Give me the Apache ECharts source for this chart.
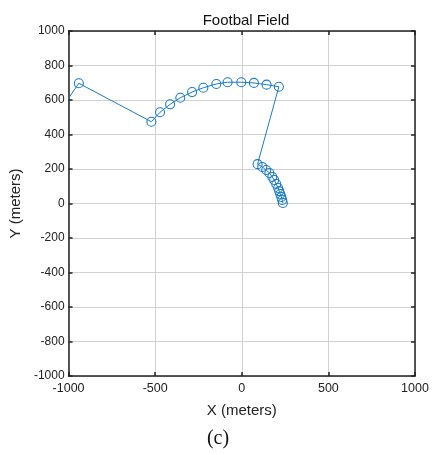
<!DOCTYPE html>
<html>
<head>
<meta charset="utf-8">
<script src="https://cdn.jsdelivr.net/npm/echarts@6/dist/echarts.min.js"></script>
<style>
	html, body { margin: 0; padding: 0; background: #fff; }
	#chart { width: 436px; height: 455px; }
</style>
</head>
<body>
<div id="chart"></div>
<script>
// path points (first one sits just outside the left edge)
const xs = [-1030, -941, -522, -472, -414, -355, -287, -222, -147, -82, -3, 70, 143, 214,
	91, 118, 141, 159, 176, 187, 199, 210, 216, 222, 228, 233, 237]
const ys = [566, 697, 474, 529, 575, 613, 646, 671, 693, 703, 703, 699, 689, 677,
	228, 212, 194, 177, 154, 136, 113, 90, 72, 55, 38, 20, 3]
const xTicks = [-1000, -500, 0, 500, 1000]
const yTicks = [-1000, -800, -600, -400, -200, 0, 200, 400, 600, 800, 1000]

const lineColor = '#1a7cc6'
const font = 'Liberation Sans, Arial, sans-serif'

const chart = echarts.init(document.getElementById('chart'))

const baseAxis = {
	min: -1000,
	max: 1000,
	axisLine: { show: true, onZero: false, lineStyle: { color: '#222', width: 1.5 } },
	axisTick: { show: true, inside: true, length: 4, lineStyle: { color: '#222', width: 1.5 } },
	splitLine: { show: false }
}

const option = {
	animation: false,
	title: {
		text: 'Footbal Field',
		left: 241,
		top: 8,
		textAlign: 'center',
		textStyle: { fontFamily: font, fontSize: 15, fontWeight: 'normal', color: '#111' }
	},
	grid: { left: 68, right: 21, top: 31, bottom: 79 },
	xAxis: [
		Object.assign({}, baseAxis, {
			type: 'value',
			interval: 500,
			position: 'bottom',
			name: 'X (meters)',
			nameLocation: 'middle',
			nameGap: 27,
			nameTextStyle: { fontFamily: font, fontSize: 15, color: '#222' },
			axisLabel: {
				fontFamily: font, fontSize: 12.5, color: '#222', margin: 6,
				formatter: v => (xTicks.includes(v) ? String(v) : '')
			},
			splitLine: { show: true, lineStyle: { color: '#d2d2d2', width: 1 } }
		}),
		Object.assign({}, baseAxis, {
			type: 'value',
			interval: 500,
			position: 'top',
			axisLabel: { show: false }
		})
	],
	yAxis: [
		Object.assign({}, baseAxis, {
			type: 'value',
			interval: 200,
			position: 'left',
			name: 'Y (meters)',
			nameLocation: 'middle',
			nameGap: 38,
			nameTextStyle: { fontFamily: font, fontSize: 15, color: '#222' },
			axisLabel: {
				fontFamily: font, fontSize: 12, color: '#222', margin: 4,
				formatter: v => (yTicks.includes(v) ? String(v) : '')
			},
			splitLine: { show: true, lineStyle: { color: '#d2d2d2', width: 1 } }
		}),
		Object.assign({}, baseAxis, {
			type: 'value',
			interval: 200,
			position: 'right',
			axisLabel: { show: false }
		})
	],
	graphic: [{
		type: 'text',
		left: 'center',
		top: 429,
		style: {
			text: '(c)',
			x: 0,
			font: '20px "Liberation Serif", "Times New Roman", serif',
			fill: '#111'
		}
	}],
	series: [{
		type: 'line',
		clip: true,
		data: xs.map((x, i) => [x, ys[i]]),
		symbol: 'circle',
		symbolSize: 9,
		showAllSymbol: true,
		lineStyle: { color: lineColor, width: 1 },
		itemStyle: { color: 'rgba(255,255,255,0)', borderColor: lineColor, borderWidth: 1.1 }
	}]
}

chart.setOption(option)
</script>
</body>
</html>
